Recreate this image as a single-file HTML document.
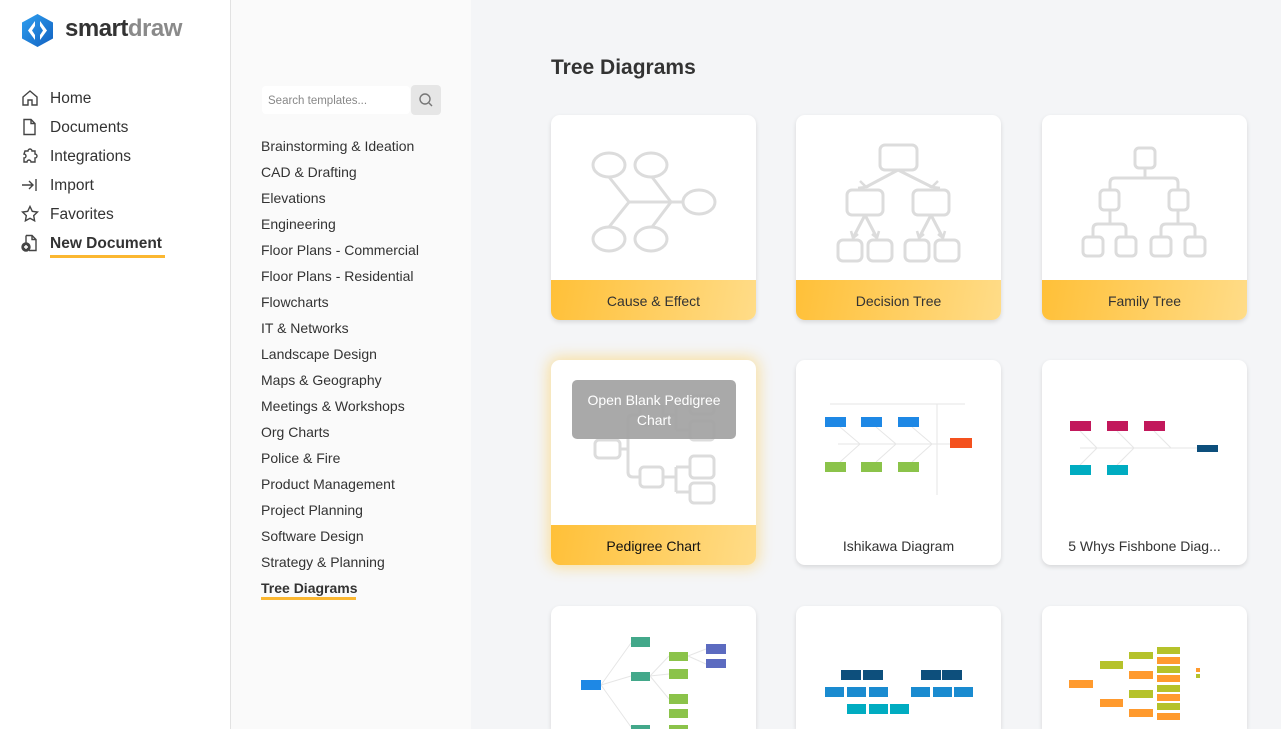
<!DOCTYPE html>
<html style="width:1281px;height:729px;overflow:hidden"><head><meta charset="utf-8"><style>
*{margin:0;padding:0;box-sizing:border-box}
body{width:1281px;height:729px;overflow:hidden;background:#f4f5f7;font-family:"Liberation Sans",sans-serif;position:relative}
.side{position:absolute;left:0;top:0;width:231px;height:729px;background:#fff;border-right:1px solid #e2e2e2}
.mid{position:absolute;left:231px;top:0;width:240px;height:729px;background:#fafafa}
.nav{position:absolute;left:50px;font-size:15.5px;color:#333}
.navi{position:absolute;left:21px}
.cat{position:absolute;left:261px;font-size:14px;color:#333}
.card{position:absolute;width:205px;height:205px;background:#fff;border-radius:9px;box-shadow:0 2px 5px rgba(0,0,0,.12);overflow:hidden}
.lab{position:absolute;left:0;bottom:0;width:100%;height:40px;background:linear-gradient(100deg,#ffc038,#ffdc88);text-align:center;line-height:42px;font-size:14px;color:#333}
.plain{position:absolute;left:0;bottom:0;width:100%;height:40px;text-align:center;line-height:42px;font-size:14px;color:#333}
</style></head><body>
<div class="side"></div><div class="mid"></div>
<svg style="position:absolute;left:22px;top:14px" width="31" height="33" viewBox="0 0 31 33">
<defs><linearGradient id="g" x1="0" y1="0" x2="1" y2="1"><stop offset="0" stop-color="#2fa0f0"/><stop offset="1" stop-color="#1260c0"/></linearGradient></defs>
<polygon points="15.5,0 31,8.5 31,24.5 15.5,33 0,24.5 0,8.5" fill="url(#g)"/>
<polygon points="13,7 6,16.5 13,26 13,21 10,16.5 13,12" fill="#fff"/>
<polygon points="18,7 25,16.5 18,26 18,21 21,16.5 18,12" fill="#fff"/>
</svg>
<div style="position:absolute;left:65px;top:15px;font-size:24px;font-weight:bold;letter-spacing:-0.5px"><span style="color:#333">smart</span><span style="color:#8a8a8a">draw</span></div>

<svg class="navi" style="top:89px" width="18" height="18" viewBox="0 0 18 18" fill="none" stroke="#444" stroke-width="1.4"><path d="M2 8 L9 2 L16 8 V16 H11 V11 H7 V16 H2 Z"/></svg>
<svg class="navi" style="top:118px" width="18" height="18" viewBox="0 0 18 18" fill="none" stroke="#444" stroke-width="1.4"><path d="M3 1.5 H10 L14 5.5 V16.5 H3 Z M10 1.5 V5.5 H14"/></svg>
<svg class="navi" style="top:147px" width="18" height="18" viewBox="0 0 18 18" fill="none" stroke="#444" stroke-width="1.4"><path d="M4 4 H7 A2 2 0 0 1 11 4 H14 V7 A2 2 0 0 1 14 11 V15 H10 A2 2 0 0 0 6 15 H3 V11 A2 2 0 0 0 3 7 Z"/></svg>
<svg class="navi" style="top:176px" width="18" height="18" viewBox="0 0 18 18" fill="none" stroke="#444" stroke-width="1.4"><path d="M1 9 H12 M8 5 L12 9 L8 13 M15 3 V15"/></svg>
<svg class="navi" style="top:205px" width="18" height="18" viewBox="0 0 18 18" fill="none" stroke="#444" stroke-width="1.4"><path d="M9 1.5 L11.3 6.3 L16.5 7 L12.7 10.6 L13.6 15.8 L9 13.3 L4.4 15.8 L5.3 10.6 L1.5 7 L6.7 6.3 Z"/></svg>
<svg class="navi" style="top:234px" width="18" height="18" viewBox="0 0 18 18" fill="none" stroke="#444" stroke-width="1.4"><path d="M5 1.5 H11 L15 5.5 V16.5 H8 M5 1.5 V9 M11 1.5 V5.5 H15"/><circle cx="5" cy="13" r="4" fill="#444"/><path d="M3 13 H7 M5 11 V15" stroke="#fff"/></svg>
<div class="nav" style="top:90px">Home</div>
<div class="nav" style="top:119px">Documents</div>
<div class="nav" style="top:148px">Integrations</div>
<div class="nav" style="top:177px">Import</div>
<div class="nav" style="top:206px">Favorites</div>
<div class="nav" style="top:235px;font-weight:bold">New Document</div>
<div style="position:absolute;left:50px;top:255px;width:115px;height:3px;background:#fbb731"></div>

<div style="position:absolute;left:262px;top:86px;width:148px;height:28px;background:#fff;border-radius:4px;font-size:11.5px;color:#888;line-height:30px;padding-left:6px">Search templates...</div>
<div style="position:absolute;left:411px;top:85px;width:30px;height:30px;background:#e6e6e6;border-radius:4px"><svg width="30" height="30"><circle cx="14" cy="14" r="5" fill="none" stroke="#777" stroke-width="1.4"/><path d="M18 18 L21 21" stroke="#777" stroke-width="1.4"/></svg></div>
<div class="cat" style="top:138px">Brainstorming &amp; Ideation</div>
<div class="cat" style="top:164px">CAD &amp; Drafting</div>
<div class="cat" style="top:190px">Elevations</div>
<div class="cat" style="top:216px">Engineering</div>
<div class="cat" style="top:242px">Floor Plans - Commercial</div>
<div class="cat" style="top:268px">Floor Plans - Residential</div>
<div class="cat" style="top:294px">Flowcharts</div>
<div class="cat" style="top:320px">IT &amp; Networks</div>
<div class="cat" style="top:346px">Landscape Design</div>
<div class="cat" style="top:372px">Maps &amp; Geography</div>
<div class="cat" style="top:398px">Meetings &amp; Workshops</div>
<div class="cat" style="top:424px">Org Charts</div>
<div class="cat" style="top:450px">Police &amp; Fire</div>
<div class="cat" style="top:476px">Product Management</div>
<div class="cat" style="top:502px">Project Planning</div>
<div class="cat" style="top:528px">Software Design</div>
<div class="cat" style="top:554px">Strategy &amp; Planning</div>
<div class="cat" style="top:580px;font-weight:bold">Tree Diagrams</div>
<div style="position:absolute;left:261px;top:597px;width:95px;height:3px;background:#fbb731"></div>

<div style="position:absolute;left:551px;top:56px;font-size:21px;font-weight:bold;color:#333">Tree Diagrams</div>

<div class="card" style="left:551px;top:115px"><div class="lab">Cause &amp; Effect</div></div>
<div class="card" style="left:796px;top:115px"><div class="lab">Decision Tree</div></div>
<div class="card" style="left:1042px;top:115px"><div class="lab">Family Tree</div></div>
<div class="card" style="left:551px;top:360px;box-shadow:0 0 14px 3px rgba(255,200,60,.45)"><div class="lab" style="color:#111">Pedigree Chart</div></div>
<div class="card" style="left:796px;top:360px"><div class="plain">Ishikawa Diagram</div></div>
<div class="card" style="left:1042px;top:360px"><div class="plain">5 Whys Fishbone Diag...</div></div>
<div class="card" style="left:551px;top:606px;height:123px;border-radius:9px 9px 0 0"></div>
<div class="card" style="left:796px;top:606px;height:123px;border-radius:9px 9px 0 0"></div>
<div class="card" style="left:1042px;top:606px;height:123px;border-radius:9px 9px 0 0"></div>

<svg style="position:absolute;left:0;top:0" width="1281" height="729">
<g fill="none" stroke="#dcdcdc" stroke-width="3">
<ellipse cx="609" cy="165" rx="16" ry="12"/><ellipse cx="651" cy="165" rx="16" ry="12"/>
<ellipse cx="609" cy="239" rx="16" ry="12"/><ellipse cx="651" cy="239" rx="16" ry="12"/>
<ellipse cx="699" cy="202" rx="16" ry="12"/>
<path d="M609 177 L629 202 L609 227 M652 177 L671 202 L652 227 M629 202 H683"/>
<rect x="880" y="145" width="37" height="25" rx="5"/>
<rect x="847" y="190" width="36" height="25" rx="5"/><rect x="913" y="190" width="36" height="25" rx="5"/>
<rect x="838" y="240" width="24" height="21" rx="5"/><rect x="868" y="240" width="24" height="21" rx="5"/>
<rect x="905" y="240" width="24" height="21" rx="5"/><rect x="935" y="240" width="24" height="21" rx="5"/>
<path d="M898 170 L866 187 M898 170 L932 187 M865 215 L853 238 M865 215 L877 238 M931 215 L919 238 M931 215 L943 238"/>
<path d="M860 181 L866 187 L858 188 M938 181 L932 187 L940 188 M851 231 L853 238 L858 234 M879 231 L877 238 L872 234 M917 231 L919 238 L924 234 M945 231 L943 238 L938 234" stroke-width="2.5"/>
<rect x="1135" y="148" width="20" height="20" rx="4"/>
<rect x="1100" y="190" width="19" height="20" rx="4"/><rect x="1169" y="190" width="19" height="20" rx="4"/>
<rect x="1083" y="237" width="20" height="19" rx="4"/><rect x="1116" y="237" width="20" height="19" rx="4"/>
<rect x="1151" y="237" width="20" height="19" rx="4"/><rect x="1185" y="237" width="20" height="19" rx="4"/>
<path d="M1145 168 V178 M1110 190 V183 Q1110 178 1115 178 H1173 Q1178 178 1178 183 V190 M1110 210 V224 M1093 237 V229 Q1093 224 1098 224 H1121 Q1126 224 1126 229 V237 M1178 210 V224 M1161 237 V229 Q1161 224 1166 224 H1190 Q1195 224 1195 229 V237"/>
<rect x="595" y="440" width="25" height="18" rx="4"/><rect x="640" y="467" width="23" height="20" rx="4"/>
<rect x="690" y="456" width="24" height="22" rx="4"/><rect x="690" y="483" width="24" height="20" rx="4"/>
<rect x="690" y="396" width="24" height="18" rx="4"/><rect x="690" y="421" width="24" height="19" rx="4"/>
<rect x="640" y="405" width="23" height="20" rx="4"/>
<path d="M620 449 H628 M628 420 V472 Q628 477 633 477 H640 M628 420 Q628 415 633 415 H640 M663 477 H676 M676 467 V492 M676 467 H690 M676 492 H690 M663 415 H676 M676 405 V430 M676 405 H690 M676 430 H690"/>
</g>
<rect x="572" y="380" width="164" height="59" rx="5" fill="#a3a3a3" fill-opacity=".93"/>
<text x="654" y="405" text-anchor="middle" font-size="14" fill="#fff" font-family="Liberation Sans">Open Blank Pedigree</text>
<text x="654" y="425" text-anchor="middle" font-size="14" fill="#fff" font-family="Liberation Sans">Chart</text>
<g stroke="#e6e6e6" stroke-width="1" fill="none"><path d="M830 404 H965 M937 404 V495 M838 444 H950 M840 427 L860 444 M876 427 L896 444 M912 427 L932 444 M840 462 L860 444 M876 462 L896 444 M912 462 L932 444"/></g>
<g fill="#1e88e5"><rect x="825" y="417" width="21" height="10"/><rect x="861" y="417" width="21" height="10"/><rect x="898" y="417" width="21" height="10"/></g>
<g fill="#8bc34a"><rect x="825" y="462" width="21" height="10"/><rect x="861" y="462" width="21" height="10"/><rect x="898" y="462" width="21" height="10"/></g>
<rect x="950" y="438" width="22" height="10" fill="#f4511e"/>
<g stroke="#e6e6e6" stroke-width="1" fill="none"><path d="M1080 448 H1197 M1080 431 L1097 448 M1117 431 L1134 448 M1154 431 L1171 448 M1080 465 L1097 448 M1117 465 L1134 448"/></g>
<g fill="#c2185b"><rect x="1070" y="421" width="21" height="10"/><rect x="1107" y="421" width="21" height="10"/><rect x="1144" y="421" width="21" height="10"/></g>
<g fill="#00acc1"><rect x="1070" y="465" width="21" height="10"/><rect x="1107" y="465" width="21" height="10"/></g>
<rect x="1197" y="445" width="21" height="7" fill="#0d4f7c"/>
<g stroke="#e6e6e6" stroke-width="1" fill="none"><path d="M601 685 L631 643 M601 685 L631 676 M601 685 L631 727 M650 676 L669 656 M650 676 L669 674 M650 676 L669 699 M688 656 L706 649 M688 656 L706 664"/></g>
<rect x="581" y="680" width="20" height="10" fill="#1e88e5"/>
<g fill="#43a88a"><rect x="631" y="637" width="19" height="10"/><rect x="631" y="672" width="19" height="9"/><rect x="631" y="725" width="19" height="6"/></g>
<g fill="#8bc34a"><rect x="669" y="652" width="19" height="9"/><rect x="669" y="669" width="19" height="10"/><rect x="669" y="694" width="19" height="10"/><rect x="669" y="709" width="19" height="9"/><rect x="669" y="725" width="19" height="6"/></g>
<g fill="#5c6bc0"><rect x="706" y="644" width="20" height="10"/><rect x="706" y="659" width="20" height="9"/></g>
<g fill="#0d4f7c"><rect x="841" y="670" width="20" height="10"/><rect x="863" y="670" width="20" height="10"/><rect x="921" y="670" width="20" height="10"/><rect x="942" y="670" width="20" height="10"/></g>
<g fill="#1a8bd0"><rect x="825" y="687" width="19" height="10"/><rect x="847" y="687" width="19" height="10"/><rect x="869" y="687" width="19" height="10"/><rect x="911" y="687" width="19" height="10"/><rect x="933" y="687" width="19" height="10"/><rect x="954" y="687" width="19" height="10"/></g>
<g fill="#00acc1"><rect x="847" y="704" width="19" height="10"/><rect x="869" y="704" width="19" height="10"/><rect x="890" y="704" width="19" height="10"/></g>
<g fill="#ff9a2e"><rect x="1069" y="680" width="24" height="8"/><rect x="1100" y="699" width="23" height="8"/><rect x="1129" y="671" width="24" height="8"/><rect x="1129" y="709" width="24" height="8"/>
<rect x="1157" y="657" width="23" height="7"/><rect x="1157" y="675" width="23" height="7"/><rect x="1157" y="694" width="23" height="7"/><rect x="1157" y="713" width="23" height="7"/><rect x="1196" y="668" width="4" height="4"/></g>
<g fill="#b5c22a"><rect x="1100" y="661" width="23" height="8"/><rect x="1129" y="652" width="24" height="7"/><rect x="1129" y="690" width="24" height="8"/>
<rect x="1157" y="647" width="23" height="7"/><rect x="1157" y="666" width="23" height="7"/><rect x="1157" y="685" width="23" height="7"/><rect x="1157" y="703" width="23" height="7"/><rect x="1196" y="674" width="4" height="4"/></g>
</svg>
</body></html>
